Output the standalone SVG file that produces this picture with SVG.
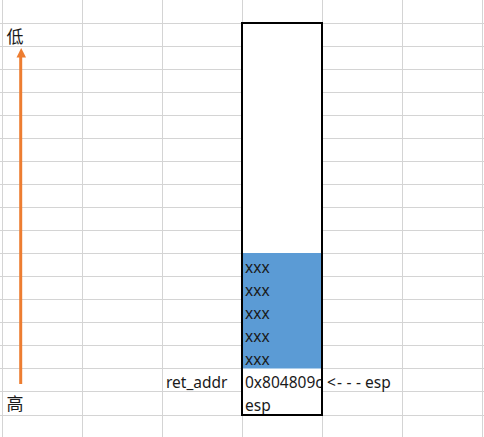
<svg xmlns="http://www.w3.org/2000/svg" width="484" height="437" viewBox="0 0 484 437">
<style>
.grid line{stroke:#d4d4d4;stroke-width:1}
.t{font-family:"Noto Sans","Liberation Sans",sans-serif;font-size:15.5px;fill:#1a1a1a}
.cjk{font-family:"Noto Sans CJK SC","Noto Sans",sans-serif;font-size:17px;fill:#1a1a1a}
</style>
<defs>
<clipPath id="cellclip"><rect x="243" y="368" width="78" height="23"/></clipPath>
</defs>
<rect width="484" height="437" fill="#fff"/>
<g id="grid" class="grid">
<line x1="2.5" y1="0" x2="2.5" y2="437"/>
<line x1="82.5" y1="0" x2="82.5" y2="437"/>
<line x1="162.5" y1="0" x2="162.5" y2="437"/>
<line x1="242.5" y1="0" x2="242.5" y2="437"/>
<line x1="322.5" y1="0" x2="322.5" y2="437"/>
<line x1="402.5" y1="0" x2="402.5" y2="437"/>
<line x1="482.5" y1="0" x2="482.5" y2="437"/>
<line x1="0" y1="23.5" x2="484" y2="23.5"/>
<line x1="0" y1="46.5" x2="484" y2="46.5"/>
<line x1="0" y1="69.5" x2="484" y2="69.5"/>
<line x1="0" y1="92.5" x2="484" y2="92.5"/>
<line x1="0" y1="115.5" x2="484" y2="115.5"/>
<line x1="0" y1="138.5" x2="484" y2="138.5"/>
<line x1="0" y1="161.5" x2="484" y2="161.5"/>
<line x1="0" y1="184.5" x2="484" y2="184.5"/>
<line x1="0" y1="207.5" x2="484" y2="207.5"/>
<line x1="0" y1="230.5" x2="484" y2="230.5"/>
<line x1="0" y1="253.5" x2="484" y2="253.5"/>
<line x1="0" y1="276.5" x2="484" y2="276.5"/>
<line x1="0" y1="299.5" x2="484" y2="299.5"/>
<line x1="0" y1="322.5" x2="484" y2="322.5"/>
<line x1="0" y1="345.5" x2="484" y2="345.5"/>
<line x1="0" y1="368.5" x2="484" y2="368.5"/>
<line x1="0" y1="391.5" x2="484" y2="391.5"/>
<line x1="0" y1="415.5" x2="484" y2="415.5"/>
</g>
<g id="stack">
<rect x="242" y="23" width="80" height="392" fill="#fff" stroke="none"/>
<rect x="243" y="253" width="78" height="115.5" fill="#5b9bd5"/>
<text class="t" x="245" y="272.5">xxx</text>
<text class="t" x="245" y="295.5">xxx</text>
<text class="t" x="245" y="318.5">xxx</text>
<text class="t" x="245" y="341.5">xxx</text>
<text class="t" x="245" y="364.5">xxx</text>
<text class="t" x="245" y="387.5" clip-path="url(#cellclip)">0x804809c</text>
<text class="t" x="245" y="410.5">esp</text>
<rect x="242" y="23" width="80" height="392" fill="none" stroke="#000" stroke-width="2"/>
</g>
<g id="label-ret">
<text class="t" x="166" y="387.5">ret_addr</text>
</g>
<g id="label-esp">
<text class="t" x="327 337 346.5 356 365" y="387.5">&lt;---esp</text>
</g>
<g id="label-low">
<text class="cjk" x="6.5" y="42.5">低</text>
</g>
<g id="label-high">
<text class="cjk" x="6.5" y="410">高</text>
</g>
<g id="connectors">
<line x1="20.7" y1="384" x2="20.7" y2="56" stroke="#ed7d31" stroke-width="3"/>
<polygon points="16.5,57.5 26,57.5 21.2,48" fill="#ed7d31"/>
</g>
</svg>
